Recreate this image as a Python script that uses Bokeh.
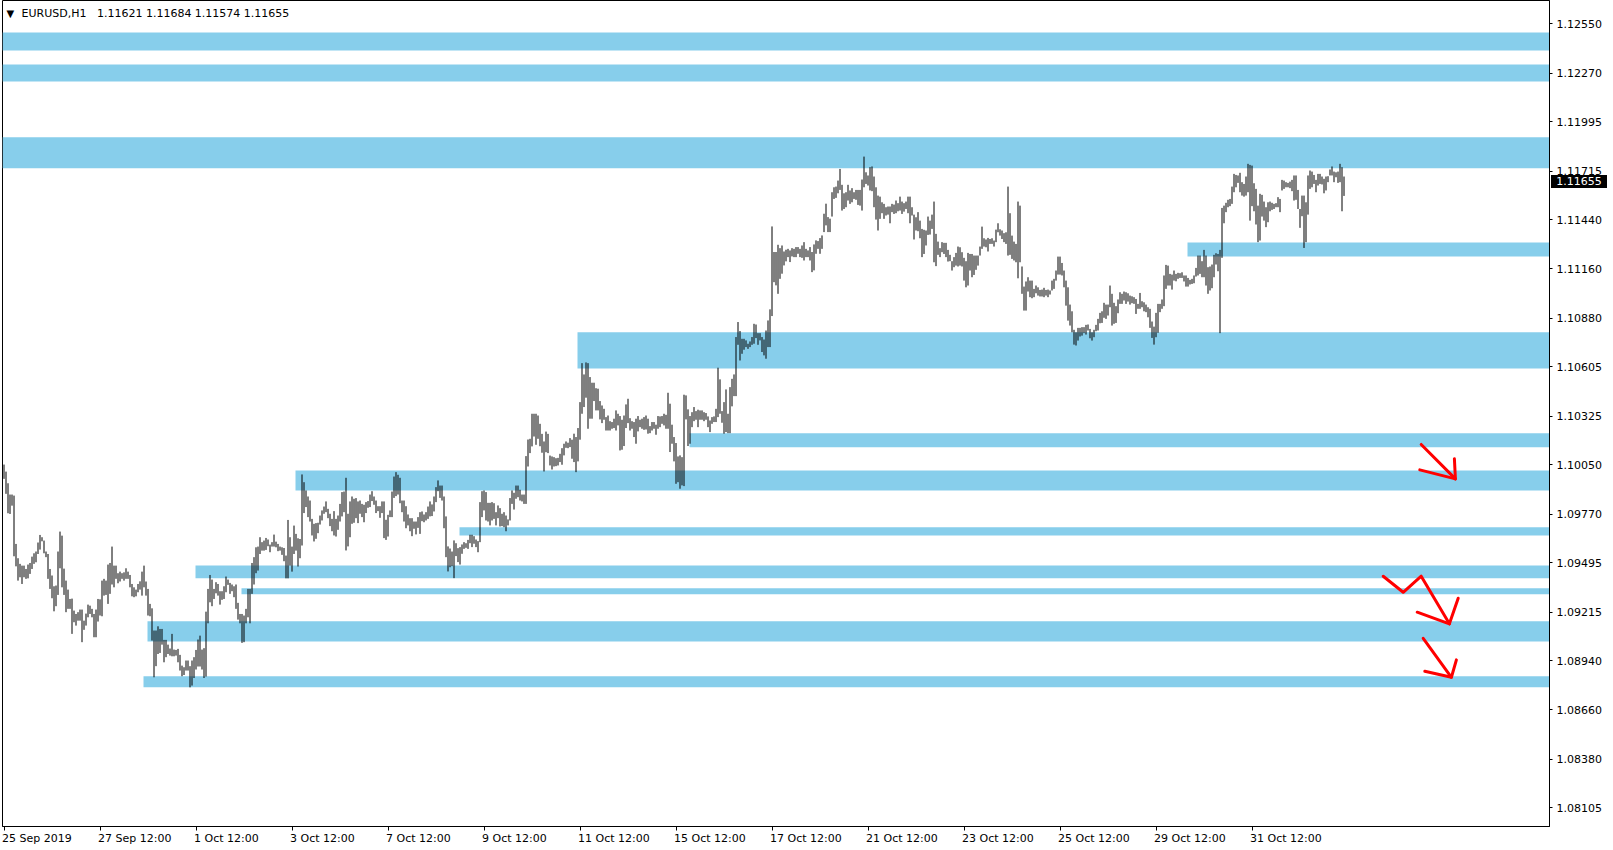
from bokeh.plotting import figure
from bokeh.models import (Range1d, FixedTicker, PrintfTickFormatter, Label, Div,
                          CustomJSTickFormatter, ColumnDataSource)
from bokeh.embed import file_html
from bokeh.resources import INLINE

# ---------------- data ----------------
symbol_text = "EURUSD,H1"
ohlc_text = "1.11621 1.11684 1.11574 1.11655"
last_price = 1.11655

x_tick_bars = [0, 48, 96, 144, 192, 240, 288, 336, 384, 432, 480, 528, 576, 624]
x_tick_labels = ["25 Sep 2019", "27 Sep 12:00", "1 Oct 12:00", "3 Oct 12:00", "7 Oct 12:00",
                 "9 Oct 12:00", "11 Oct 12:00", "15 Oct 12:00", "17 Oct 12:00", "21 Oct 12:00",
                 "23 Oct 12:00", "25 Oct 12:00", "29 Oct 12:00", "31 Oct 12:00"]
y_ticks = [1.12550, 1.12270, 1.11995, 1.11715, 1.11440, 1.11160, 1.10880, 1.10605, 1.10325,
           1.10050, 1.09770, 1.09495, 1.09215, 1.08940, 1.08660, 1.08380, 1.08105]

highs = [
    1.10051, 1.10011, 1.09945, 1.09881, 1.09881, 1.09875, 1.09601, 1.09520, 1.09488, 1.09478,
    1.09478, 1.09459, 1.09484, 1.09493, 1.09529, 1.09548, 1.09558, 1.09609, 1.09652, 1.09639,
    1.09620, 1.09558, 1.09544, 1.09459, 1.09422, 1.09361, 1.09365, 1.09558, 1.09671, 1.09648,
    1.09461, 1.09393, 1.09342, 1.09289, 1.09291, 1.09223, 1.09204, 1.09214, 1.09229, 1.09229,
    1.09166, 1.09206, 1.09257, 1.09251, 1.09233, 1.09204, 1.09229, 1.09289, 1.09287, 1.09393,
    1.09403, 1.09393, 1.09484, 1.09493, 1.09586, 1.09478, 1.09478, 1.09435, 1.09444, 1.09435,
    1.09440, 1.09463, 1.09444, 1.09425, 1.09374, 1.09355, 1.09342, 1.09374, 1.09389, 1.09444,
    1.09478, 1.09388, 1.09346, 1.09261, 1.09236, 1.09110, 1.09110, 1.09134, 1.09119, 1.09119,
    1.09057, 1.09057, 1.09030, 1.09008, 1.09091, 1.09002, 1.09000, 1.09006, 1.08972, 1.08911,
    1.08902, 1.08940, 1.08940, 1.08908, 1.08940, 1.08959, 1.09000, 1.09059, 1.09081, 1.09002,
    1.09010, 1.09217, 1.09346, 1.09425, 1.09399, 1.09346, 1.09384, 1.09374, 1.09333, 1.09333,
    1.09361, 1.09416, 1.09399, 1.09380, 1.09371, 1.09361, 1.09371, 1.09267, 1.09204, 1.09204,
    1.09195, 1.09233, 1.09346, 1.09346, 1.09493, 1.09526, 1.09582, 1.09586, 1.09639, 1.09611,
    1.09620, 1.09635, 1.09626, 1.09597, 1.09611, 1.09654, 1.09614, 1.09601, 1.09586, 1.09582,
    1.09578, 1.09535, 1.09737, 1.09639, 1.09586, 1.09705, 1.09658, 1.09633, 1.09629, 1.09995,
    1.09951, 1.09904, 1.09870, 1.09847, 1.09743, 1.09715, 1.09719, 1.09721, 1.09762, 1.09791,
    1.09813, 1.09842, 1.09800, 1.09772, 1.09743, 1.09787, 1.09743, 1.09762, 1.09828, 1.09895,
    1.09898, 1.09976, 1.09772, 1.09842, 1.09870, 1.09857, 1.09861, 1.09842, 1.09847, 1.09828,
    1.09823, 1.09838, 1.09844, 1.09881, 1.09900, 1.09870, 1.09847, 1.09815, 1.09815, 1.09842,
    1.09842, 1.09738, 1.09766, 1.09791, 1.09898, 1.09983, 1.10008, 1.09993, 1.09976, 1.09847,
    1.09847, 1.09815, 1.09768, 1.09747, 1.09747, 1.09728, 1.09728, 1.09753, 1.09781, 1.09785,
    1.09768, 1.09781, 1.09813, 1.09842, 1.09825, 1.09870, 1.09923, 1.09961, 1.09932, 1.09932,
    1.09870, 1.09757, 1.09587, 1.09575, 1.09558, 1.09621, 1.09605, 1.09577, 1.09583, 1.09598,
    1.09611, 1.09605, 1.09624, 1.09653, 1.09653, 1.09645, 1.09626, 1.09617, 1.09838, 1.09900,
    1.09904, 1.09895, 1.09834, 1.09834, 1.09838, 1.09832, 1.09781, 1.09819, 1.09804, 1.09772,
    1.09781, 1.09762, 1.09740, 1.09861, 1.09904, 1.09891, 1.09932, 1.09932, 1.09908, 1.09881,
    1.09881, 1.10099, 1.10193, 1.10197, 1.10339, 1.10339, 1.10339, 1.10329, 1.10282, 1.10225,
    1.10182, 1.10238, 1.10225, 1.10102, 1.10097, 1.10093, 1.10087, 1.10089, 1.10112, 1.10144,
    1.10169, 1.10182, 1.10175, 1.10201, 1.10192, 1.10226, 1.10207, 1.10258, 1.10405, 1.10626,
    1.10562, 1.10630, 1.10626, 1.10547, 1.10515, 1.10515, 1.10484, 1.10481, 1.10411, 1.10386,
    1.10367, 1.10320, 1.10329, 1.10297, 1.10292, 1.10311, 1.10358, 1.10339, 1.10326, 1.10305,
    1.10329, 1.10392, 1.10424, 1.10314, 1.10297, 1.10292, 1.10311, 1.10326, 1.10305, 1.10311,
    1.10320, 1.10329, 1.10311, 1.10269, 1.10292, 1.10292, 1.10277, 1.10326, 1.10324, 1.10326,
    1.10339, 1.10333, 1.10458, 1.10396, 1.10277, 1.10207, 1.10173, 1.10097, 1.10103, 1.10093,
    1.10447, 1.10443, 1.10364, 1.10326, 1.10348, 1.10377, 1.10354, 1.10362, 1.10358, 1.10358,
    1.10348, 1.10343, 1.10324, 1.10301, 1.10320, 1.10324, 1.10367, 1.10600, 1.10534, 1.10354,
    1.10405, 1.10477, 1.10339, 1.10490, 1.10537, 1.10562, 1.10774, 1.10859, 1.10808, 1.10764,
    1.10764, 1.10755, 1.10736, 1.10749, 1.10774, 1.10849, 1.10845, 1.10796, 1.10796, 1.10774,
    1.10760, 1.10811, 1.10868, 1.10931, 1.11401, 1.11256, 1.11256, 1.11297, 1.11278, 1.11293,
    1.11259, 1.11269, 1.11274, 1.11265, 1.11278, 1.11274, 1.11284, 1.11284, 1.11274, 1.11293,
    1.11312, 1.11274, 1.11265, 1.11284, 1.11256, 1.11299, 1.11322, 1.11318, 1.11335, 1.11350,
    1.11473, 1.11530, 1.11454, 1.11445, 1.11595, 1.11623, 1.11627, 1.11661, 1.11727, 1.11637,
    1.11589, 1.11595, 1.11637, 1.11605, 1.11618, 1.11595, 1.11608, 1.11608, 1.11608, 1.11667,
    1.11797, 1.11708, 1.11690, 1.11737, 1.11741, 1.11684, 1.11623, 1.11576, 1.11570, 1.11538,
    1.11529, 1.11510, 1.11514, 1.11514, 1.11529, 1.11525, 1.11548, 1.11533, 1.11570, 1.11542,
    1.11533, 1.11542, 1.11570, 1.11570, 1.11510, 1.11468, 1.11453, 1.11482, 1.11434, 1.11387,
    1.11382, 1.11378, 1.11457, 1.11434, 1.11468, 1.11542, 1.11359, 1.11315, 1.11278, 1.11312,
    1.11308, 1.11308, 1.11268, 1.11240, 1.11204, 1.11227, 1.11251, 1.11287, 1.11283, 1.11255,
    1.11223, 1.11204, 1.11251, 1.11245, 1.11245, 1.11236, 1.11236, 1.11236, 1.11287, 1.11400,
    1.11334, 1.11327, 1.11336, 1.11330, 1.11334, 1.11321, 1.11383, 1.11419, 1.11385, 1.11378,
    1.11363, 1.11368, 1.11627, 1.11476, 1.11349, 1.11315, 1.11302, 1.11542, 1.11519, 1.11174,
    1.11060, 1.11089, 1.11113, 1.11094, 1.11094, 1.11047, 1.11066, 1.11056, 1.11041, 1.11043,
    1.11053, 1.11041, 1.11043, 1.11038, 1.11094, 1.11104, 1.11151, 1.11230, 1.11230, 1.11194,
    1.11151, 1.11094, 1.11056, 1.10958, 1.10920, 1.10815, 1.10801, 1.10826, 1.10826, 1.10830,
    1.10830, 1.10843, 1.10845, 1.10820, 1.10801, 1.10815, 1.10843, 1.10877, 1.10911, 1.10920,
    1.10968, 1.10958, 1.10958, 1.11066, 1.11019, 1.10968, 1.10949, 1.10987, 1.11028, 1.11019,
    1.11032, 1.11028, 1.11022, 1.11009, 1.11005, 1.11000, 1.10990, 1.10962, 1.11024, 1.10977,
    1.10971, 1.10958, 1.10943, 1.10934, 1.10862, 1.10833, 1.10911, 1.10962, 1.10962, 1.10987,
    1.11123, 1.11183, 1.11179, 1.11132, 1.11128, 1.11151, 1.11132, 1.11138, 1.11136, 1.11141,
    1.11123, 1.11123, 1.11109, 1.11098, 1.11104, 1.11123, 1.11166, 1.11236, 1.11236, 1.11204,
    1.11268, 1.11236, 1.11170, 1.11174, 1.11185, 1.11240, 1.11249, 1.11245, 1.11268, 1.11506,
    1.11519, 1.11535, 1.11552, 1.11557, 1.11627, 1.11699, 1.11693, 1.11690, 1.11705, 1.11652,
    1.11642, 1.11684, 1.11756, 1.11750, 1.11746, 1.11646, 1.11614, 1.11519, 1.11586, 1.11580,
    1.11542, 1.11510, 1.11538, 1.11542, 1.11535, 1.11529, 1.11533, 1.11567, 1.11557, 1.11665,
    1.11661, 1.11652, 1.11648, 1.11655, 1.11665, 1.11690, 1.11690, 1.11608, 1.11500, 1.11576,
    1.11576, 1.11538, 1.11690, 1.11718, 1.11712, 1.11693, 1.11665, 1.11699, 1.11699, 1.11684,
    1.11671, 1.11684, 1.11686, 1.11724, 1.11741, 1.11712, 1.11708, 1.11712, 1.11756, 1.11737,
    1.11684,
]

lows = [
    1.09970, 1.09885, 1.09775, 1.09771, 1.09818, 1.09531, 1.09474, 1.09393, 1.09412, 1.09374,
    1.09412, 1.09403, 1.09406, 1.09431, 1.09459, 1.09488, 1.09497, 1.09544, 1.09569, 1.09616,
    1.09548, 1.09526, 1.09403, 1.09346, 1.09293, 1.09219, 1.09248, 1.09312, 1.09463, 1.09355,
    1.09312, 1.09214, 1.09233, 1.09233, 1.09091, 1.09157, 1.09138, 1.09166, 1.09166, 1.09044,
    1.09114, 1.09138, 1.09185, 1.09204, 1.09185, 1.09072, 1.09072, 1.09161, 1.09195, 1.09191,
    1.09308, 1.09312, 1.09261, 1.09318, 1.09371, 1.09355, 1.09403, 1.09378, 1.09388, 1.09403,
    1.09393, 1.09403, 1.09403, 1.09355, 1.09304, 1.09299, 1.09304, 1.09327, 1.09342, 1.09308,
    1.09355, 1.09308, 1.09195, 1.09191, 1.09053, 1.08845, 1.08908, 1.08977, 1.08983, 1.09030,
    1.08930, 1.08959, 1.08977, 1.08968, 1.08964, 1.08964, 1.08968, 1.08930, 1.08883, 1.08851,
    1.08858, 1.08883, 1.08883, 1.08788, 1.08798, 1.08841, 1.08889, 1.08906, 1.08906, 1.08889,
    1.08841, 1.08849, 1.09151, 1.09270, 1.09248, 1.09289, 1.09321, 1.09308, 1.09257, 1.09284,
    1.09289, 1.09327, 1.09369, 1.09318, 1.09333, 1.09299, 1.09233, 1.09172, 1.09151, 1.09040,
    1.09044, 1.09151, 1.09185, 1.09151, 1.09318, 1.09371, 1.09435, 1.09450, 1.09544, 1.09563,
    1.09563, 1.09567, 1.09588, 1.09554, 1.09586, 1.09586, 1.09582, 1.09560, 1.09563, 1.09539,
    1.09503, 1.09406, 1.09406, 1.09478, 1.09444, 1.09544, 1.09563, 1.09473, 1.09520, 1.09592,
    1.09776, 1.09810, 1.09753, 1.09728, 1.09649, 1.09615, 1.09630, 1.09662, 1.09711, 1.09734,
    1.09772, 1.09781, 1.09747, 1.09702, 1.09673, 1.09649, 1.09643, 1.09681, 1.09728, 1.09757,
    1.09781, 1.09564, 1.09587, 1.09639, 1.09715, 1.09721, 1.09747, 1.09719, 1.09772, 1.09753,
    1.09724, 1.09776, 1.09806, 1.09810, 1.09844, 1.09823, 1.09776, 1.09787, 1.09749, 1.09776,
    1.09634, 1.09624, 1.09643, 1.09753, 1.09753, 1.09862, 1.09872, 1.09881, 1.09832, 1.09781,
    1.09728, 1.09690, 1.09706, 1.09673, 1.09645, 1.09687, 1.09655, 1.09692, 1.09658, 1.09730,
    1.09724, 1.09734, 1.09743, 1.09757, 1.09759, 1.09785, 1.09838, 1.09900, 1.09862, 1.09847,
    1.09690, 1.09526, 1.09445, 1.09469, 1.09475, 1.09407, 1.09532, 1.09498, 1.09484, 1.09545,
    1.09573, 1.09579, 1.09573, 1.09605, 1.09583, 1.09602, 1.09583, 1.09554, 1.09611, 1.09753,
    1.09791, 1.09734, 1.09728, 1.09706, 1.09734, 1.09743, 1.09706, 1.09747, 1.09700, 1.09702,
    1.09696, 1.09673, 1.09706, 1.09734, 1.09828, 1.09796, 1.09857, 1.09866, 1.09847, 1.09842,
    1.09828, 1.09828, 1.10040, 1.10116, 1.10154, 1.10210, 1.10163, 1.10197, 1.10155, 1.10118,
    1.10012, 1.10121, 1.10116, 1.10046, 1.10023, 1.10040, 1.10042, 1.10046, 1.10065, 1.10050,
    1.10103, 1.10146, 1.10144, 1.10150, 1.10084, 1.10065, 1.10008, 1.10069, 1.10192, 1.10339,
    1.10377, 1.10430, 1.10254, 1.10311, 1.10311, 1.10411, 1.10358, 1.10358, 1.10307, 1.10286,
    1.10305, 1.10244, 1.10244, 1.10244, 1.10254, 1.10258, 1.10244, 1.10273, 1.10131, 1.10135,
    1.10156, 1.10258, 1.10286, 1.10244, 1.10254, 1.10207, 1.10169, 1.10239, 1.10263, 1.10254,
    1.10248, 1.10250, 1.10226, 1.10229, 1.10244, 1.10254, 1.10220, 1.10254, 1.10263, 1.10282,
    1.10273, 1.10254, 1.10254, 1.10122, 1.10169, 1.10069, 1.09942, 1.09951, 1.09914, 1.09933,
    1.09929, 1.10307, 1.10156, 1.10169, 1.10263, 1.10297, 1.10305, 1.10263, 1.10305, 1.10305,
    1.10297, 1.10305, 1.10263, 1.10235, 1.10282, 1.10292, 1.10292, 1.10320, 1.10339, 1.10288,
    1.10226, 1.10235, 1.10229, 1.10229, 1.10381, 1.10439, 1.10439, 1.10730, 1.10641, 1.10679,
    1.10702, 1.10717, 1.10707, 1.10717, 1.10730, 1.10736, 1.10768, 1.10730, 1.10755, 1.10689,
    1.10670, 1.10651, 1.10717, 1.10717, 1.10893, 1.11085, 1.11067, 1.11019, 1.11104, 1.11133,
    1.11180, 1.11203, 1.11227, 1.11199, 1.11231, 1.11227, 1.11227, 1.11246, 1.11227, 1.11223,
    1.11208, 1.11227, 1.11227, 1.11208, 1.11142, 1.11152, 1.11246, 1.11274, 1.11246, 1.11274,
    1.11369, 1.11407, 1.11369, 1.11369, 1.11457, 1.11557, 1.11563, 1.11589, 1.11608, 1.11491,
    1.11500, 1.11510, 1.11548, 1.11529, 1.11538, 1.11557, 1.11552, 1.11523, 1.11519, 1.11491,
    1.11623, 1.11642, 1.11633, 1.11605, 1.11601, 1.11510, 1.11440, 1.11378, 1.11444, 1.11476,
    1.11444, 1.11463, 1.11468, 1.11419, 1.11482, 1.11472, 1.11476, 1.11487, 1.11491, 1.11472,
    1.11485, 1.11500, 1.11476, 1.11419, 1.11463, 1.11327, 1.11378, 1.11374, 1.11334, 1.11227,
    1.11245, 1.11293, 1.11353, 1.11355, 1.11387, 1.11198, 1.11176, 1.11240, 1.11227, 1.11255,
    1.11245, 1.11227, 1.11202, 1.11204, 1.11151, 1.11170, 1.11179, 1.11174, 1.11179, 1.11174,
    1.11094, 1.11056, 1.11066, 1.11151, 1.11113, 1.11126, 1.11155, 1.11179, 1.11236, 1.11274,
    1.11287, 1.11283, 1.11259, 1.11302, 1.11302, 1.11287, 1.11312, 1.11368, 1.11349, 1.11330,
    1.11312, 1.11302, 1.11236, 1.11240, 1.11217, 1.11208, 1.11198, 1.11107, 1.11198, 1.11019,
    1.10924, 1.10924, 1.11032, 1.11000, 1.10994, 1.11000, 1.11022, 1.11009, 1.11004, 1.11004,
    1.11000, 1.11009, 1.11000, 1.11015, 1.11038, 1.11047, 1.11094, 1.11128, 1.11128, 1.11123,
    1.11056, 1.10952, 1.10867, 1.10839, 1.10801, 1.10731, 1.10726, 1.10754, 1.10777, 1.10782,
    1.10796, 1.10788, 1.10811, 1.10767, 1.10754, 1.10773, 1.10807, 1.10811, 1.10852, 1.10854,
    1.10883, 1.10877, 1.10896, 1.10943, 1.10839, 1.10849, 1.10854, 1.10909, 1.10962, 1.10962,
    1.10981, 1.10962, 1.10975, 1.10958, 1.10966, 1.10962, 1.10905, 1.10934, 1.10934, 1.10943,
    1.10920, 1.10915, 1.10886, 1.10826, 1.10769, 1.10731, 1.10773, 1.10798, 1.10915, 1.10934,
    1.10949, 1.11047, 1.11066, 1.11066, 1.11043, 1.11094, 1.11090, 1.11104, 1.11109, 1.11109,
    1.11089, 1.11060, 1.11060, 1.11072, 1.11075, 1.11079, 1.11117, 1.11123, 1.11132, 1.11113,
    1.11113, 1.11066, 1.11019, 1.11038, 1.11051, 1.11113, 1.11185, 1.11147, 1.10796, 1.11223,
    1.11419, 1.11482, 1.11510, 1.11516, 1.11529, 1.11595, 1.11623, 1.11648, 1.11595, 1.11576,
    1.11570, 1.11576, 1.11595, 1.11434, 1.11516, 1.11487, 1.11412, 1.11312, 1.11321, 1.11457,
    1.11434, 1.11397, 1.11425, 1.11487, 1.11495, 1.11500, 1.11510, 1.11510, 1.11482, 1.11605,
    1.11614, 1.11623, 1.11623, 1.11618, 1.11601, 1.11548, 1.11552, 1.11500, 1.11393, 1.11459,
    1.11279, 1.11312, 1.11468, 1.11614, 1.11623, 1.11642, 1.11595, 1.11633, 1.11642, 1.11639,
    1.11589, 1.11605, 1.11652, 1.11690, 1.11690, 1.11652, 1.11680, 1.11648, 1.11652, 1.11487,
    1.11574,
]

# support / resistance zones (price top, price bottom, first bar; None = whole width)
zone_top = [1.12500, 1.12319, 1.11907, 1.11310, 1.10801, 1.10229, 1.10017, 1.09696,
            1.09479, 1.09350, 1.09163, 1.08851]
zone_bottom = [1.12399, 1.12223, 1.11731, 1.11231, 1.10596, 1.10149, 1.09904, 1.09649,
               1.09407, 1.09316, 1.09048, 1.08789]
zone_start = [None, None, None, 592, 287, 343, 146, 228, 96, 119, 72, 70]

# hand-drawn red arrows (bar index, price)
arrow_paths_x = [
    [708.6, 725.7], [707.9, 725.7, 725.2],
    [689.6, 699.6, 708.6, 722.7], [706.6, 722.7, 727.1],
    [709.6, 723.7], [710.4, 723.7, 726.2],
]
arrow_paths_y = [
    [1.10165, 1.09970], [1.10021, 1.09970, 1.10084],
    [1.09418, 1.09327, 1.09418, 1.09148], [1.09214, 1.09148, 1.09293],
    [1.09066, 1.08845], [1.08879, 1.08845, 1.08944],
]

# ---------------- layout ----------------
FRAME_W, FRAME_H = 1547, 826
X_START = -0.75
X_END = X_START + FRAME_W / 2.0
Y_LO, Y_HI = 1.07999, 1.12682
FONT = "DejaVu Sans"

p = figure(frame_width=FRAME_W, frame_height=FRAME_H,
           x_range=Range1d(X_START, X_END), y_range=Range1d(Y_LO, Y_HI),
           y_axis_location="right", output_backend="svg", toolbar_location=None,
           min_border_left=2, min_border_top=0, min_border_right=64, min_border_bottom=24,
           background_fill_color="white", border_fill_color="white")
p.styles = {"position": "absolute", "left": "0px", "top": "0px"}
p.grid.visible = False
p.outline_line_color = "black"
p.outline_line_width = 1

# zones
zl = [X_START if s is None else s - 0.25 for s in zone_start]
p.quad(left=zl, right=[X_END] * len(zl), top=zone_top, bottom=zone_bottom,
       fill_color="#87CEEB", line_color=None)

# bars
idx = list(range(len(highs)))
src = ColumnDataSource(dict(x=idx, hi=highs, lo=lows))
p.segment(x0="x", y0="lo", x1="x", y1="hi", source=src, line_color="black", line_width=1)

# arrows
p.multi_line(xs=arrow_paths_x, ys=arrow_paths_y, line_color="#FF0000", line_width=3,
             line_cap="round", line_join="round")

# y axis
ya = p.yaxis[0]
ya.ticker = FixedTicker(ticks=y_ticks, minor_ticks=[])
ya.formatter = PrintfTickFormatter(format="%.5f")
ya.major_tick_out = 3
ya.major_tick_in = 0
ya.minor_tick_out = 0
ya.minor_tick_in = 0
ya.major_label_standoff = 4
ya.axis_line_color = "black"
ya.major_tick_line_color = "black"
ya.major_label_text_font = FONT
ya.major_label_text_font_size = "11px"
ya.major_label_text_color = "black"

# x axis: labels left-aligned at tick marks (MT4 style)
CW = {" ": 0.318, ":": 0.337, "S": 0.635, "e": 0.615, "p": 0.635, "O": 0.787, "c": 0.55, "t": 0.392}
def text_px(s, size=11):
    return sum(0.636 if ch.isdigit() else CW.get(ch, 0.6) for ch in s) * size

px_per_bar = FRAME_W / (X_END - X_START)
label_pos = [b + (text_px(l) / 2 - 2) / px_per_bar for b, l in zip(x_tick_bars, x_tick_labels)]
xa = p.xaxis[0]
xa.ticker = FixedTicker(ticks=label_pos, minor_ticks=x_tick_bars)
xa.formatter = CustomJSTickFormatter(args=dict(pos=label_pos, labels=x_tick_labels), code="""
    let best = 0, bd = 1e9;
    for (let i = 0; i < pos.length; i++) { const d = Math.abs(pos[i] - tick); if (d < bd) { bd = d; best = i; } }
    return labels[best];
""")
xa.major_tick_line_color = None
xa.major_tick_out = 4
xa.major_tick_in = 0
xa.minor_tick_out = 4
xa.minor_tick_in = 0
xa.minor_tick_line_color = "black"
xa.major_label_standoff = 1
xa.axis_line_color = "black"
xa.major_label_text_font = FONT
xa.major_label_text_font_size = "11px"
xa.major_label_text_color = "black"

# header text
NBSP = "\u00a0"
p.add_layout(Label(x=4, y=FRAME_H - 12.5, x_units="screen", y_units="screen", text="\u25bc",
                   text_font=FONT, text_font_size="10px", text_baseline="middle",
                   text_color="black"))
p.add_layout(Label(x=19, y=FRAME_H - 12.5, x_units="screen", y_units="screen",
                   text=symbol_text + NBSP * 3 + ohlc_text,
                   text_font=FONT, text_font_size="11px", text_baseline="middle",
                   text_color="black"))

# current price tag over the price scale (outside the plot frame)
tag_top = (Y_HI - last_price) / (Y_HI - Y_LO) * FRAME_H - 6.5 - 5
tag = Div(text="%.5f" % last_price, width=56, height=13,
          styles={"position": "absolute", "left": "%dpx" % (FRAME_W - 1),
                  "top": "%dpx" % round(tag_top), "background-color": "black",
                  "color": "white", "font-family": FONT, "font-size": "11px",
                  "line-height": "13px", "text-align": "center", "white-space": "nowrap",
                  "overflow": "hidden"})

open("out.html", "w").write(file_html([p, tag], INLINE))
